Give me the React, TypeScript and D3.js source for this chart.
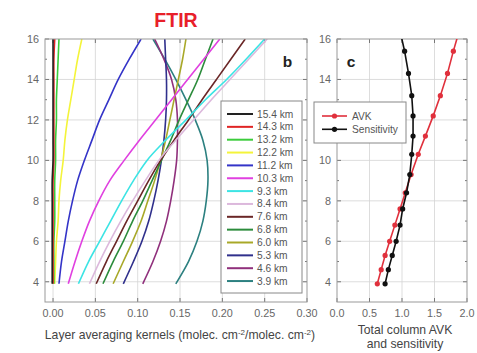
import React, { useEffect, useRef } from 'react';
import * as d3 from 'd3';

// altitudes (km) where the kernels are read
const kernelAlt = [3.9, 5, 6, 7, 8, 9, 10, 11, 12, 13, 14, 15, 16];

const kernelLabels = ['15.4 km', '14.3 km', '13.2 km', '12.2 km', '11.2 km', '10.3 km', '9.3 km',
  '8.4 km', '7.6 km', '6.8 km', '6.0 km', '5.3 km', '4.6 km', '3.9 km'];
const kernelColors = ['#222222', '#e02424', '#3ccc3c', '#f4f43a', '#3434c8', '#e040e0', '#3ce4e4',
  '#dcb8dc', '#6a2626', '#2c8c3c', '#a8a828', '#30308c', '#90307c', '#2c8080'];

const k154 = [-0.001, -0.001, -0.001, -0.001, -0.001, -0.001, 0.000, 0.000, 0.000, 0.000, 0.000, 0.000, 0.000];
const k143 = [0.000, 0.000, 0.000, 0.000, 0.000, 0.000, 0.001, 0.001, 0.001, 0.001, 0.001, 0.001, 0.002];
const k132 = [0.001, 0.001, 0.001, 0.002, 0.002, 0.002, 0.003, 0.003, 0.004, 0.004, 0.005, 0.006, 0.007];
const k122 = [0.002, 0.003, 0.004, 0.006, 0.007, 0.009, 0.012, 0.014, 0.017, 0.021, 0.025, 0.029, 0.034];
const k112 = [0.007, 0.010, 0.014, 0.018, 0.023, 0.029, 0.037, 0.046, 0.055, 0.066, 0.077, 0.090, 0.104];
const k103 = [0.018, 0.026, 0.034, 0.043, 0.054, 0.067, 0.084, 0.102, 0.121, 0.140, 0.159, 0.178, 0.197];
const k93 = [0.030, 0.042, 0.055, 0.068, 0.081, 0.095, 0.111, 0.133, 0.157, 0.180, 0.205, 0.228, 0.250];
const k84 = [0.043, 0.055, 0.067, 0.080, 0.094, 0.109, 0.125, 0.145, 0.166, 0.187, 0.209, 0.231, 0.253];
const k76 = [0.051, 0.063, 0.075, 0.087, 0.100, 0.113, 0.127, 0.143, 0.160, 0.176, 0.193, 0.210, 0.227];
const k68 = [0.059, 0.071, 0.083, 0.094, 0.106, 0.117, 0.128, 0.139, 0.149, 0.160, 0.171, 0.180, 0.189];
const k60 = [0.071, 0.083, 0.094, 0.104, 0.112, 0.120, 0.127, 0.133, 0.138, 0.143, 0.148, 0.153, 0.157];
const k53 = [0.083, 0.095, 0.105, 0.113, 0.119, 0.124, 0.128, 0.131, 0.133, 0.134, 0.134, 0.133, 0.132];
const k46 = [0.106, 0.118, 0.127, 0.134, 0.139, 0.143, 0.146, 0.147, 0.147, 0.145, 0.140, 0.131, 0.120];
const k39 = [0.145, 0.160, 0.170, 0.177, 0.181, 0.183, 0.182, 0.177, 0.168, 0.157, 0.145, 0.132, 0.118];
const kernels = [k154, k143, k132, k122, k112, k103, k93, k84, k76, k68, k60, k53, k46, k39];

// panel c
const columnAlt = [3.9, 4.6, 5.3, 6.0, 6.8, 7.6, 8.4, 9.3, 10.3, 11.2, 12.2, 13.2, 14.3, 15.4, 16.4];
const avk = [0.62, 0.68, 0.74, 0.81, 0.89, 0.97, 1.05, 1.14, 1.25, 1.36, 1.48, 1.59, 1.70, 1.79, 1.88];
const sensitivity = [0.74, 0.79, 0.85, 0.91, 0.97, 1.01, 1.07, 1.12, 1.15, 1.17, 1.17, 1.15, 1.10, 1.04, 0.97];

const bTicks = [0, 0.05, 0.1, 0.15, 0.2, 0.25, 0.3];
const cTicks = [0, 0.5, 1, 1.5, 2];
const altTicks = [4, 6, 8, 10, 12, 14, 16];
const altMinor = [5, 7, 9, 11, 13, 15];

const font = '"Liberation Sans", Arial, sans-serif';

export default function App() {
  const ref = useRef<SVGSVGElement>(null);

  useEffect(() => {
    const svg = d3.select(ref.current);
    svg.selectAll('*').remove();
    svg.style('font-family', font);

    const y = d3.scaleLinear().domain([3, 16]).range([302, 39]);
    const xb = d3.scaleLinear().domain([-0.0095, 0.3]).range([45, 307]);
    const xc = d3.scaleLinear().domain([0, 2]).range([337, 467]);

    // frame, grid, ticks for one panel
    const panel = (x, ticks, fmt, id) => {
      const [x0, x1] = x.range();
      const [y0, y1] = y.range();
      const g = svg.append('g');
      g.append('rect').attr('x', x0).attr('y', y1).attr('width', x1 - x0).attr('height', y0 - y1)
        .attr('fill', '#fff');
      g.selectAll('.vg').data(ticks.filter(t => x(t) > x0 + 2 && x(t) < x1 - 2)).enter().append('line')
        .attr('x1', d => x(d)).attr('x2', d => x(d)).attr('y1', y1).attr('y2', y0)
        .attr('stroke', '#d4d4d4').attr('stroke-width', 0.8);
      g.selectAll('.hg').data(altTicks.slice(0, -1)).enter().append('line')
        .attr('x1', x0).attr('x2', x1).attr('y1', d => y(d)).attr('y2', d => y(d))
        .attr('stroke', '#d4d4d4').attr('stroke-width', 0.8);
      // ticks
      altTicks.concat(altMinor).forEach(t => {
        const len = altTicks.includes(t) ? 4 : 2;
        g.append('line').attr('x1', x0).attr('x2', x0 + len).attr('y1', y(t)).attr('y2', y(t)).attr('stroke', '#777');
        g.append('line').attr('x1', x1).attr('x2', x1 - len).attr('y1', y(t)).attr('y2', y(t)).attr('stroke', '#777');
      });
      ticks.forEach(t => {
        g.append('line').attr('x1', x(t)).attr('x2', x(t)).attr('y1', y0).attr('y2', y0 - 4).attr('stroke', '#777');
        g.append('line').attr('x1', x(t)).attr('x2', x(t)).attr('y1', y1).attr('y2', y1 + 4).attr('stroke', '#777');
      });
      g.selectAll('.xl').data(ticks).enter().append('text')
        .attr('x', d => x(d)).attr('y', 317).attr('text-anchor', 'middle')
        .attr('font-size', 10.8).attr('fill', '#666').text(d => fmt(d));
      g.selectAll('.yl').data(altTicks).enter().append('text')
        .attr('x', x0 - 6).attr('y', d => y(d) + 3.8).attr('text-anchor', 'end')
        .attr('font-size', 10.8).attr('fill', '#666').text(d => d);
      svg.append('clipPath').attr('id', id).append('rect')
        .attr('x', x0).attr('y', y1).attr('width', x1 - x0).attr('height', y0 - y1);
      return g;
    };

    panel(xb, bTicks, d3.format('.2f'), 'clipB');
    panel(xc, cTicks, d3.format('.1f'), 'clipC');

    // kernels
    const kLine = d3.line<number>()
      .x(d => xb(d))
      .y((d, i) => y(kernelAlt[i]))
      .curve(d3.curveCatmullRom);
    const gb = svg.append('g').attr('clip-path', 'url(#clipB)');
    kernels.slice().reverse().forEach((k, ri) => {
      const i = kernels.length - 1 - ri;
      gb.append('path').attr('d', kLine(k)).attr('fill', 'none')
        .attr('stroke', kernelColors[i]).attr('stroke-width', 1.6);
    });

    // frames on top
    [xb, xc].forEach(x => {
      const [x0, x1] = x.range();
      svg.append('rect').attr('x', x0).attr('y', 39).attr('width', x1 - x0).attr('height', 263)
        .attr('fill', 'none').attr('stroke', '#999').attr('stroke-width', 1);
    });

    // legend b
    const lb = svg.append('g');
    lb.append('rect').attr('x', 221).attr('y', 101).attr('width', 81).attr('height', 192)
      .attr('fill', '#fff').attr('stroke', '#888').attr('stroke-width', 1);
    kernelLabels.forEach((lab, i) => {
      const yy = 114 + i * 12.85;
      lb.append('line').attr('x1', 227).attr('x2', 253).attr('y1', yy).attr('y2', yy)
        .attr('stroke', kernelColors[i]).attr('stroke-width', 2);
      lb.append('text').attr('x', 257).attr('y', yy + 3.5).attr('font-size', 10.2)
        .attr('fill', '#555').text(lab);
    });

    // panel c lines
    const gc = svg.append('g').attr('clip-path', 'url(#clipC)');
    const series = [
      { vals: avk, color: '#e0303c' },
      { vals: sensitivity, color: '#111' },
    ];
    series.forEach(s => {
      const line = d3.line<number>().x(d => xc(d)).y((d, i) => y(columnAlt[i]));
      gc.append('path').attr('d', line(s.vals)).attr('fill', 'none')
        .attr('stroke', s.color).attr('stroke-width', 1.6);
      gc.selectAll(null).data(s.vals).enter().append('circle')
        .attr('cx', d => xc(d)).attr('cy', (d, i) => y(columnAlt[i])).attr('r', 2.6)
        .attr('fill', s.color);
    });

    // legend c
    const lc = svg.append('g');
    lc.append('rect').attr('x', 314).attr('y', 102).attr('width', 92).attr('height', 41)
      .attr('fill', '#fff').attr('stroke', '#888').attr('stroke-width', 1);
    [['AVK', '#e0303c'], ['Sensitivity', '#111']].forEach(([lab, col], i) => {
      const yy = 116 + i * 13.3;
      lc.append('line').attr('x1', 322).attr('x2', 347).attr('y1', yy).attr('y2', yy)
        .attr('stroke', col).attr('stroke-width', 1.6);
      lc.append('circle').attr('cx', 334.5).attr('cy', yy).attr('r', 2.6).attr('fill', col);
      lc.append('text').attr('x', 352).attr('y', yy + 3.5).attr('font-size', 10.2)
        .attr('fill', '#555').text(lab);
    });

    // titles and labels
    svg.append('text').attr('x', 176).attr('y', 26.5).attr('text-anchor', 'middle')
      .attr('font-size', 19.5).attr('font-weight', 'bold').attr('fill', '#e8202a').text('FTIR');
    svg.append('text').attr('x', 287.5).attr('y', 67).attr('text-anchor', 'middle')
      .attr('font-size', 15.5).attr('font-weight', 'bold').attr('fill', '#222').text('b');
    svg.append('text').attr('x', 351).attr('y', 67).attr('text-anchor', 'middle')
      .attr('font-size', 15.5).attr('font-weight', 'bold').attr('fill', '#222').text('c');

    const xl = svg.append('text').attr('x', 180).attr('y', 339).attr('text-anchor', 'middle')
      .attr('font-size', 12.2).attr('fill', '#444');
    xl.append('tspan').text('Layer averaging kernels (molec. cm');
    xl.append('tspan').attr('dy', -4.5).attr('font-size', 8).text('-2');
    xl.append('tspan').attr('dy', 4.5).text('/molec. cm');
    xl.append('tspan').attr('dy', -4.5).attr('font-size', 8).text('-2');
    xl.append('tspan').attr('dy', 4.5).text(')');

    svg.append('text').attr('x', 405).attr('y', 334).attr('text-anchor', 'middle')
      .attr('font-size', 12.2).attr('fill', '#444').text('Total column AVK');
    svg.append('text').attr('x', 405).attr('y', 347.5).attr('text-anchor', 'middle')
      .attr('font-size', 12.2).attr('fill', '#444').text('and sensitivity');
  }, []);

  return (
    <svg ref={ref} width={477} height={353}
      style={{ position: 'absolute', left: 0, top: 0, background: '#fff' }} />
  );
}
